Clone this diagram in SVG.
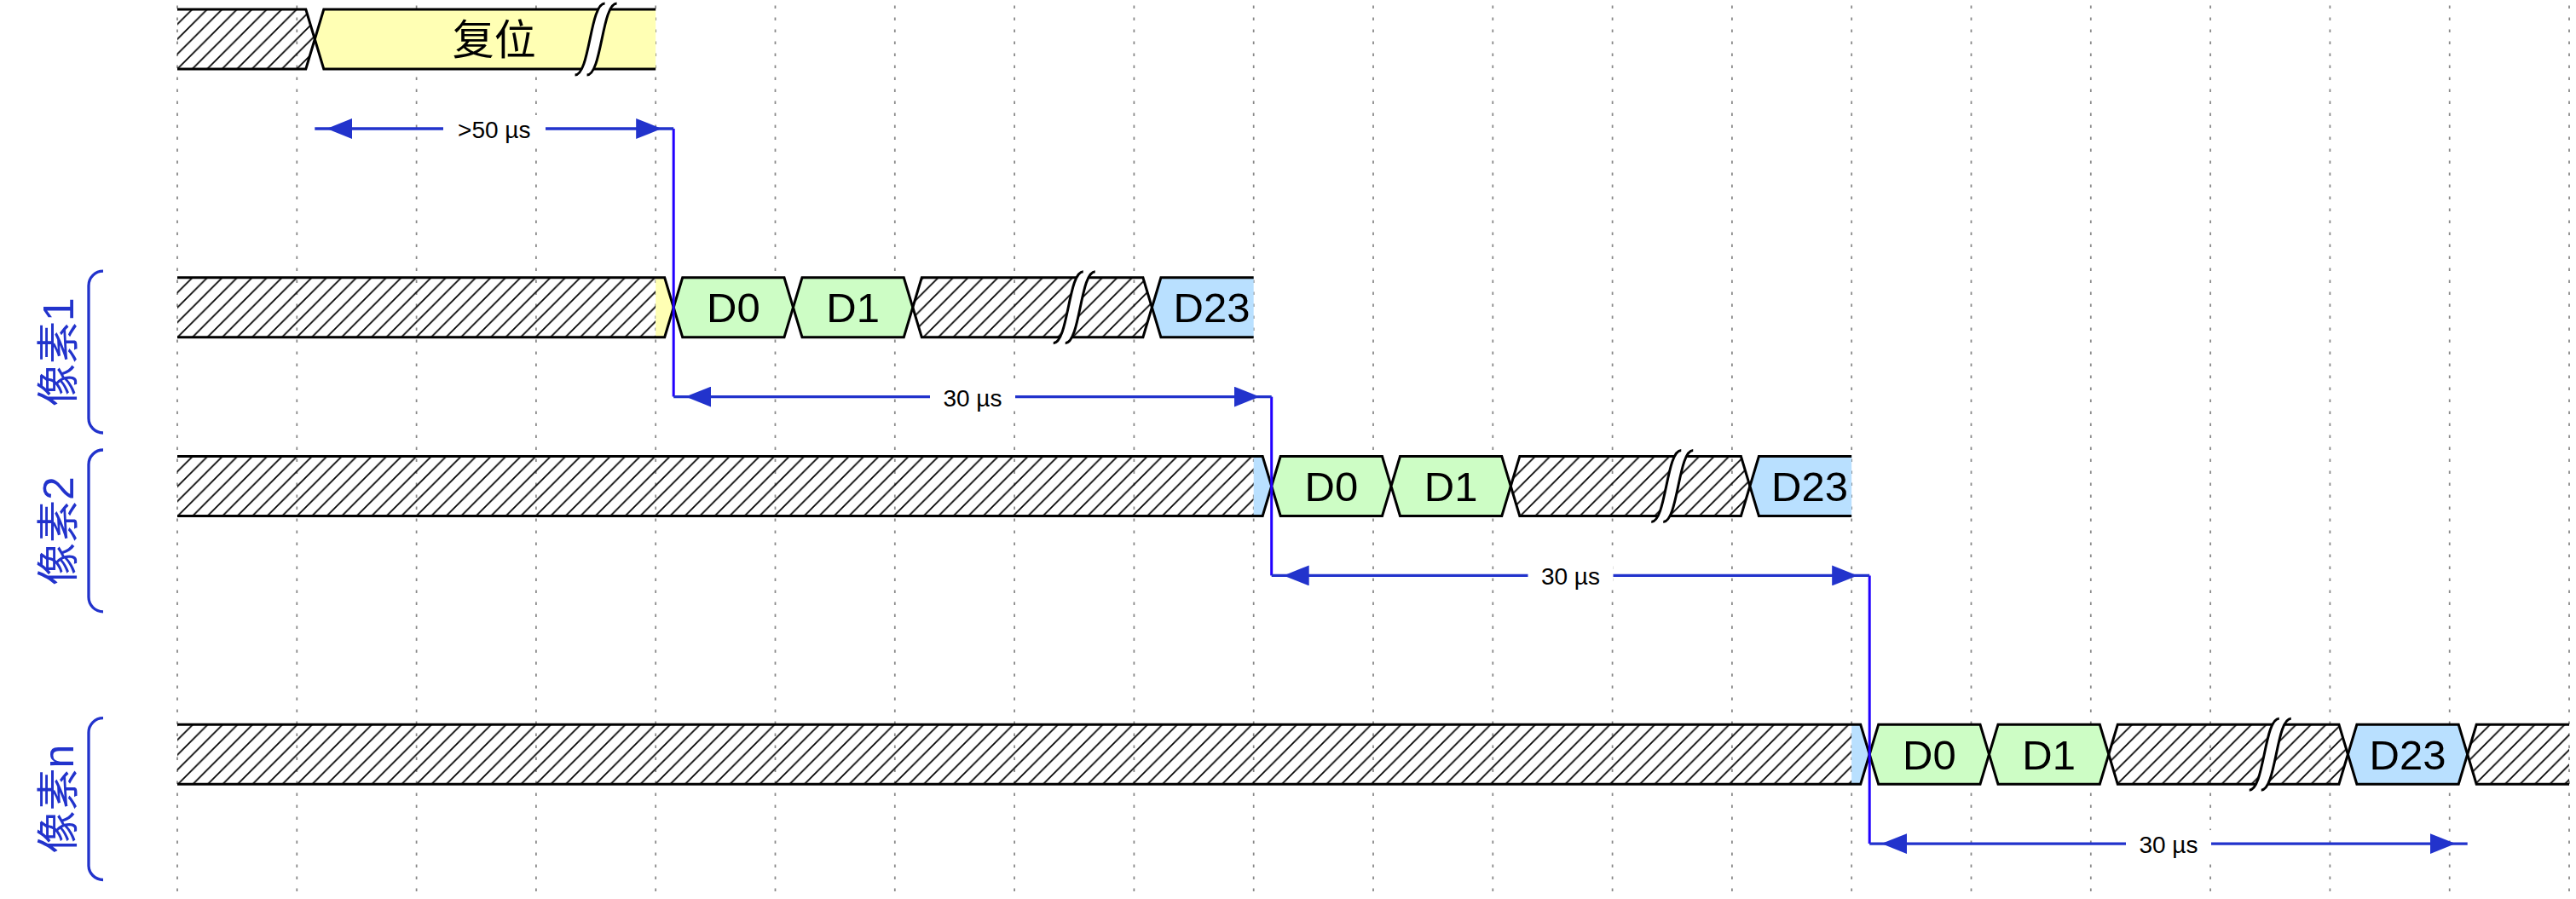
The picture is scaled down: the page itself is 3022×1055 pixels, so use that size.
<svg xmlns="http://www.w3.org/2000/svg" xmlns:xlink="http://www.w3.org/1999/xlink" width="3022" height="1055" viewBox="0 0 3022 1055">
<style>
.grid{stroke:#888;stroke-width:1.75;stroke-dasharray:3.5 10.5;fill:none}
.sig{fill:none;stroke:#000;stroke-width:3;stroke-linejoin:miter}
.hatch{fill:url(#hatch);stroke:none}
.yel{fill:#ffffb4;stroke:none}
.blu{fill:#b9e0ff;stroke:none}
.dl{font-family:"Liberation Sans","Noto Sans CJK SC",sans-serif;font-size:49px;fill:#000;text-anchor:middle}
.cjk{font-family:"Noto Sans CJK SC","Liberation Sans",sans-serif;font-size:49px;fill:#000;text-anchor:middle}
.grp{font-family:"Liberation Sans","Noto Sans CJK SC",sans-serif;font-size:50px;fill:#2233cc;text-anchor:middle}
.brk{fill:none;stroke:#2233cc;stroke-width:3.3}
.arr{fill:none;stroke:#2233cc;stroke-width:3.3;marker-start:url(#ah);marker-end:url(#ah)}
.vl{fill:none;stroke:#2200ff;stroke-width:3}
.lbg{fill:#fff;stroke:none}
.el{font-family:"Liberation Sans",sans-serif;font-size:28px;fill:#000;text-anchor:middle}
</style>
<defs>
<pattern id="hatch" patternUnits="userSpaceOnUse" width="17.5" height="17.5" patternTransform="translate(9,0)">
<path d="M-1,1 L1,-1 M0,17.5 L17.5,0 M16.5,18.5 L18.5,16.5" stroke="#000" stroke-width="1.75"/>
</pattern>
<marker id="ah" markerUnits="userSpaceOnUse" viewBox="0 0 46 24" refX="44" refY="12" markerWidth="46" markerHeight="24" orient="auto-start-reverse">
<path d="M0,0 L30,12 L0,24 Z" fill="#2233cc"/>
</marker>
<g id="gap">
<path d="M24.5,-7 H10.5 C-7,-7 -7,77 -24.5,77 H-10.5 C7,77 7,-7 24.5,-7 Z" fill="#fff" stroke="none"/>
<path d="M-24.5,77 C-7,77 -7,-7 10.5,-7" fill="none" stroke="#000" stroke-width="3"/>
<path d="M-10.5,77 C7,77 7,-7 24.5,-7" fill="none" stroke="#000" stroke-width="3"/>
</g>
</defs>
<rect width="3022" height="1055" fill="#fff"/>
<g id="grid">
<path class="grid" d="M208,6.5V1050 M348.3,6.5V1050 M488.6,6.5V1050 M628.9,6.5V1050 M769.2,6.5V1050 M909.5,6.5V1050 M1049.8,6.5V1050 M1190.1,6.5V1050 M1330.4,6.5V1050 M1470.7,6.5V1050 M1611,6.5V1050 M1751.3,6.5V1050 M1891.6,6.5V1050 M2031.9,6.5V1050 M2172.2,6.5V1050 M2312.5,6.5V1050 M2452.8,6.5V1050 M2593.1,6.5V1050 M2733.4,6.5V1050 M2873.7,6.5V1050 M3014,6.5V1050"/>
</g>
<g id="reset">
<polygon class="hatch" points="208,11 358.8,11 369.3,46 358.8,81 208,81"/>
<path class="sig" d="M208,11 H358.8 L369.3,46 L358.8,81 H208"/>
<polygon class="yel" points="369.3,46 379.8,11 769.2,11 769.2,81 379.8,81"/>
<path class="sig" d="M769.2,11 H379.8 L369.3,46 L379.8,81 H769.2"/>
<text class="cjk" x="579.8" y="64">复位</text>
<use xlink:href="#gap" transform="translate(699.05,11)"/>
</g>
<g id="pixel1">
<polygon class="hatch" points="208,325.7 769.2,325.7 769.2,395.7 208,395.7"/>
<polygon class="yel" points="769.2,325.7 779.7,325.7 790.2,360.7 779.7,395.7 769.2,395.7"/>
<path class="sig" d="M208,325.7 H779.7 L790.2,360.7 L779.7,395.7 H208"/>
<polygon class="sig" style="fill:#cdfdc5" points="790.2,360.7 800.7,325.7 920,325.7 930.5,360.7 920,395.7 800.7,395.7"/>
<text class="dl" x="860.35" y="378.2">D0</text>
<polygon class="sig" style="fill:#cdfdc5" points="930.5,360.7 941,325.7 1060.3,325.7 1070.8,360.7 1060.3,395.7 941,395.7"/>
<text class="dl" x="1000.65" y="378.2">D1</text>
<polygon class="hatch" points="1070.8,360.7 1081.3,325.7 1340.9,325.7 1351.4,360.7 1340.9,395.7 1081.3,395.7"/>
<polygon class="sig" points="1070.8,360.7 1081.3,325.7 1340.9,325.7 1351.4,360.7 1340.9,395.7 1081.3,395.7"/>
<use xlink:href="#gap" transform="translate(1260.25,325.7)"/>
<polygon class="blu" points="1351.4,360.7 1361.9,325.7 1470.7,325.7 1470.7,395.7 1361.9,395.7"/>
<path class="sig" d="M1470.7,325.7 H1361.9 L1351.4,360.7 L1361.9,395.7 H1470.7"/>
<text class="dl" x="1421.55" y="378.2">D23</text>
</g>
<g id="pixel2">
<polygon class="hatch" points="208,535.5 1470.7,535.5 1470.7,605.5 208,605.5"/>
<polygon class="blu" points="1470.7,535.5 1481.2,535.5 1491.7,570.5 1481.2,605.5 1470.7,605.5"/>
<path class="sig" d="M208,535.5 H1481.2 L1491.7,570.5 L1481.2,605.5 H208"/>
<polygon class="sig" style="fill:#cdfdc5" points="1491.7,570.5 1502.2,535.5 1621.5,535.5 1632,570.5 1621.5,605.5 1502.2,605.5"/>
<text class="dl" x="1561.85" y="588">D0</text>
<polygon class="sig" style="fill:#cdfdc5" points="1632,570.5 1642.5,535.5 1761.8,535.5 1772.3,570.5 1761.8,605.5 1642.5,605.5"/>
<text class="dl" x="1702.15" y="588">D1</text>
<polygon class="hatch" points="1772.3,570.5 1782.8,535.5 2042.4,535.5 2052.9,570.5 2042.4,605.5 1782.8,605.5"/>
<polygon class="sig" points="1772.3,570.5 1782.8,535.5 2042.4,535.5 2052.9,570.5 2042.4,605.5 1782.8,605.5"/>
<use xlink:href="#gap" transform="translate(1961.75,535.5)"/>
<polygon class="blu" points="2052.9,570.5 2063.4,535.5 2172.2,535.5 2172.2,605.5 2063.4,605.5"/>
<path class="sig" d="M2172.2,535.5 H2063.4 L2052.9,570.5 L2063.4,605.5 H2172.2"/>
<text class="dl" x="2123.05" y="588">D23</text>
</g>
<g id="pixeln">
<polygon class="hatch" points="208,850.2 2172.2,850.2 2172.2,920.2 208,920.2"/>
<polygon class="blu" points="2172.2,850.2 2182.7,850.2 2193.2,885.2 2182.7,920.2 2172.2,920.2"/>
<path class="sig" d="M208,850.2 H2182.7 L2193.2,885.2 L2182.7,920.2 H208"/>
<polygon class="sig" style="fill:#cdfdc5" points="2193.2,885.2 2203.7,850.2 2323,850.2 2333.5,885.2 2323,920.2 2203.7,920.2"/>
<text class="dl" x="2263.35" y="902.7">D0</text>
<polygon class="sig" style="fill:#cdfdc5" points="2333.5,885.2 2344,850.2 2463.3,850.2 2473.8,885.2 2463.3,920.2 2344,920.2"/>
<text class="dl" x="2403.65" y="902.7">D1</text>
<polygon class="hatch" points="2473.8,885.2 2484.3,850.2 2743.9,850.2 2754.4,885.2 2743.9,920.2 2484.3,920.2"/>
<polygon class="sig" points="2473.8,885.2 2484.3,850.2 2743.9,850.2 2754.4,885.2 2743.9,920.2 2484.3,920.2"/>
<use xlink:href="#gap" transform="translate(2663.25,850.2)"/>
<polygon class="sig" style="fill:#b9e0ff" points="2754.4,885.2 2764.9,850.2 2884.2,850.2 2894.7,885.2 2884.2,920.2 2764.9,920.2"/>
<text class="dl" x="2824.55" y="902.7">D23</text>
<polygon class="hatch" points="2894.7,885.2 2905.2,850.2 3014,850.2 3014,920.2 2905.2,920.2"/>
<path class="sig" d="M3014,850.2 H2905.2 L2894.7,885.2 L2905.2,920.2 H3014"/>
</g>
<g id="group1">
<path class="brk" d="M121,318.2 A17,17 0 0 0 104,335.2 V491 A17,17 0 0 0 121,508"/>
<text class="grp" transform="translate(86,413) rotate(-90)">像素1</text>
</g>
<g id="group2">
<path class="brk" d="M121,528 A17,17 0 0 0 104,545 V700.8 A17,17 0 0 0 121,717.8"/>
<text class="grp" transform="translate(86,623) rotate(-90)">像素2</text>
</g>
<g id="groupn">
<path class="brk" d="M121,842.7 A17,17 0 0 0 104,859.7 V1015.5 A17,17 0 0 0 121,1032.5"/>
<text class="grp" transform="translate(86,937.6) rotate(-90)">像素n</text>
</g>
<g id="connectors">
<path class="vl" d="M790.2,151 V465.6"/>
<path class="vl" d="M1491.7,465.6 V675.4"/>
<path class="vl" d="M2193.2,675.4 V990.1"/>
<path class="arr" d="M369.3,151 H790.2"/>
<path class="arr" d="M790.2,465.6 H1491.7"/>
<path class="arr" d="M1491.7,675.4 H2193.2"/>
<path class="arr" d="M2193.2,990.1 H2894.7"/>
<rect class="lbg" x="520" y="135" width="120" height="32"/>
<text class="el" x="579.8" y="162">&gt;50 µs</text>
<rect class="lbg" x="1091" y="449.6" width="100" height="32"/>
<text class="el" x="1140.95" y="476.6">30 µs</text>
<rect class="lbg" x="1792.5" y="659.4" width="100" height="32"/>
<text class="el" x="1842.45" y="686.4">30 µs</text>
<rect class="lbg" x="2494" y="974.1" width="100" height="32"/>
<text class="el" x="2543.95" y="1001.1">30 µs</text>
</g>
</svg>
